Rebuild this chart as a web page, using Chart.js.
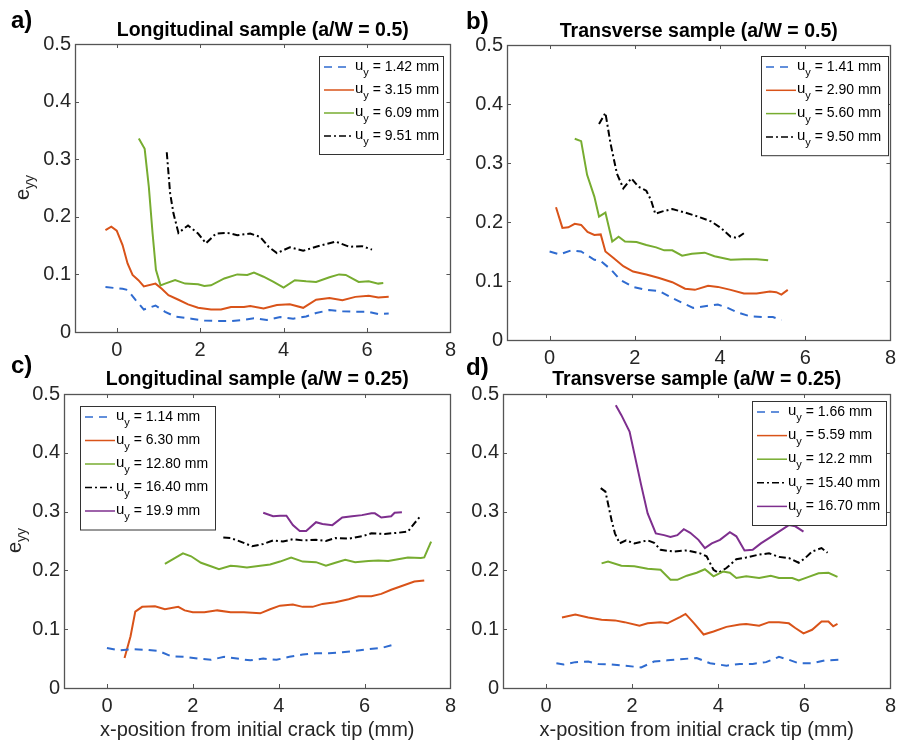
<!DOCTYPE html>
<html>
<head>
<meta charset="utf-8">
<title>e_yy vs x-position</title>
<script src="https://cdn.jsdelivr.net/npm/chart.js@4.4.1/dist/chart.umd.min.js"></script>
<style>
  body { margin: 0; background: #fff; }
  #wrap { position: relative; width: 902px; height: 740px; overflow: hidden; }
  canvas { position: absolute; }
</style>
</head>
<body>
<div id="wrap">
  <canvas id="chartA" width="462" height="370" style="left:0;top:0"></canvas>
  <canvas id="chartB" width="452" height="370" style="left:450px;top:0"></canvas>
  <canvas id="chartC" width="462" height="390" style="left:0;top:350px"></canvas>
  <canvas id="chartD" width="452" height="390" style="left:450px;top:350px"></canvas>
</div>
<script>
// axis ticks shared by all four panels
var xTicks = [0, 2, 4, 6, 8];
var yTicks = [0, 0.1, 0.2, 0.3, 0.4, 0.5];

// a) Longitudinal sample (a/W = 0.5)  -- points are [x mm, e_yy]
var longHalfUy = ['1.42', '3.15', '6.09', '9.51'];
var longHalf1 = [[-0.27,0.078],[0.14,0.075],[0.26,0.073],[0.46,0.055],[0.65,0.039],[0.93,0.046],[1.16,0.035],[1.4,0.027],[1.79,0.023],[2.1,0.020],[2.42,0.019],[2.74,0.019],[3.05,0.021],[3.29,0.024],[3.6,0.021],[3.92,0.026],[4.23,0.023],[4.54,0.027],[4.78,0.033],[5.1,0.038],[5.41,0.036],[5.72,0.035],[6.04,0.035],[6.27,0.031],[6.52,0.032]];
var longHalf2 = [[-0.27,0.177],[-0.13,0.183],[0,0.176],[0.14,0.151],[0.26,0.119],[0.38,0.099],[0.52,0.09],[0.65,0.079],[0.93,0.084],[1.08,0.075],[1.24,0.064],[1.48,0.056],[1.71,0.048],[1.95,0.042],[2.26,0.039],[2.5,0.039],[2.74,0.0435],[3.05,0.0435],[3.2,0.045],[3.52,0.041],[3.84,0.047],[4.15,0.048],[4.47,0.042],[4.78,0.056],[5.1,0.059],[5.41,0.055],[5.72,0.061],[6.04,0.063],[6.27,0.06],[6.52,0.061]];
var longHalf3 = [[0.53,0.336],[0.67,0.318],[0.77,0.252],[0.86,0.171],[0.94,0.108],[1.05,0.081],[1.16,0.084],[1.4,0.09],[1.64,0.084],[1.95,0.083],[2.1,0.08],[2.26,0.081],[2.58,0.093],[2.89,0.1],[3.13,0.099],[3.29,0.103],[3.52,0.096],[3.76,0.087],[4.0,0.077],[4.27,0.09],[4.54,0.088],[4.78,0.087],[5.1,0.095],[5.33,0.1],[5.49,0.099],[5.8,0.087],[6.04,0.088],[6.27,0.084],[6.39,0.085]];
var longHalf4 = [[1.2,0.312],[1.28,0.241],[1.36,0.206],[1.48,0.172],[1.71,0.185],[1.95,0.171],[2.14,0.154],[2.38,0.171],[2.66,0.172],[2.89,0.168],[3.2,0.171],[3.44,0.165],[3.64,0.148],[3.84,0.137],[4.15,0.147],[4.47,0.141],[4.78,0.148],[5.1,0.154],[5.25,0.157],[5.57,0.148],[5.88,0.149],[6.12,0.143]];

// b) Transverse sample (a/W = 0.5)
var transHalfUy = ['1.41', '2.90', '5.60', '9.50'];
var transHalf1 = [[0,0.150],[0.24,0.145],[0.51,0.152],[0.74,0.150],[1.05,0.136],[1.2,0.134],[1.43,0.12],[1.66,0.102],[1.96,0.09],[2.27,0.085],[2.57,0.083],[2.88,0.071],[3.11,0.063],[3.37,0.0545],[3.72,0.058],[3.95,0.06],[4.18,0.0545],[4.4,0.047],[4.71,0.040],[5.02,0.039],[5.24,0.039],[5.44,0.034]];
var transHalf2 = [[0.15,0.225],[0.3,0.19],[0.44,0.191],[0.59,0.197],[0.74,0.195],[0.89,0.183],[1.05,0.178],[1.2,0.179],[1.31,0.15],[1.5,0.139],[1.73,0.125],[1.96,0.116],[2.27,0.111],[2.57,0.105],[2.88,0.098],[3.18,0.087],[3.41,0.085],[3.72,0.092],[3.95,0.09],[4.25,0.085],[4.56,0.079],[4.86,0.079],[5.17,0.082],[5.32,0.081],[5.44,0.077],[5.59,0.085]];
var transHalf3 = [[0.59,0.341],[0.74,0.337],[0.88,0.28],[1.05,0.243],[1.16,0.209],[1.31,0.216],[1.47,0.167],[1.62,0.175],[1.77,0.167],[2.04,0.166],[2.27,0.161],[2.5,0.157],[2.69,0.152],[2.88,0.152],[3.11,0.143],[3.34,0.146],[3.64,0.148],[3.87,0.142],[4.25,0.136],[4.56,0.137],[4.86,0.137],[5.13,0.135]];
var transHalf4 = [[1.16,0.366],[1.31,0.385],[1.43,0.333],[1.58,0.282],[1.73,0.257],[1.92,0.274],[2.08,0.26],[2.27,0.253],[2.38,0.237],[2.48,0.214],[2.65,0.218],[2.88,0.222],[3.18,0.216],[3.49,0.209],[3.79,0.201],[4.02,0.19],[4.25,0.175],[4.4,0.173],[4.56,0.181]];

// c) Longitudinal sample (a/W = 0.25)
var longQuarterUy = ['1.14', '6.30', '12.80', '16.40', '19.9'];
var longQuarter1 = [[0,0.068],[0.28,0.064],[0.59,0.066],[0.89,0.065],[1.2,0.063],[1.5,0.054],[1.81,0.053],[2.12,0.05],[2.42,0.048],[2.73,0.053],[3.03,0.05],[3.34,0.047],[3.64,0.05],[3.95,0.048],[4.25,0.053],[4.56,0.057],[4.87,0.059],[5.17,0.059],[5.48,0.061],[5.78,0.063],[6.09,0.066],[6.39,0.068],[6.7,0.074]];
var longQuarter2 = [[0.41,0.051],[0.55,0.088],[0.66,0.130],[0.82,0.138],[1.12,0.139],[1.35,0.134],[1.66,0.138],[1.81,0.132],[2.0,0.129],[2.27,0.129],[2.57,0.132],[2.88,0.129],[3.19,0.129],[3.57,0.127],[3.8,0.134],[4.03,0.14],[4.33,0.142],[4.56,0.138],[4.79,0.138],[5.02,0.143],[5.32,0.146],[5.63,0.151],[5.86,0.156],[6.16,0.156],[6.39,0.16],[6.62,0.167],[6.85,0.173],[7.16,0.181],[7.39,0.183]];
var longQuarter3 = [[1.35,0.211],[1.58,0.221],[1.77,0.229],[1.96,0.224],[2.19,0.213],[2.42,0.207],[2.61,0.202],[2.88,0.208],[3.03,0.207],[3.26,0.205],[3.57,0.208],[3.8,0.21],[4.03,0.215],[4.29,0.222],[4.56,0.215],[4.87,0.214],[5.1,0.208],[5.32,0.213],[5.55,0.218],[5.78,0.214],[6.09,0.216],[6.32,0.217],[6.55,0.216],[6.78,0.219],[7.01,0.222],[7.31,0.221],[7.39,0.222],[7.55,0.249]];
var longQuarter4 = [[2.71,0.256],[2.88,0.255],[3.11,0.249],[3.38,0.241],[3.64,0.245],[3.87,0.251],[4.1,0.249],[4.33,0.253],[4.56,0.251],[4.87,0.252],[5.1,0.25],[5.32,0.255],[5.63,0.254],[5.94,0.258],[6.16,0.263],[6.47,0.262],[6.78,0.264],[7.01,0.266],[7.16,0.28],[7.3,0.292]];
var longQuarter5 = [[3.64,0.298],[3.87,0.292],[4.03,0.293],[4.18,0.293],[4.33,0.277],[4.49,0.267],[4.64,0.267],[4.87,0.282],[5.02,0.279],[5.25,0.277],[5.48,0.29],[5.71,0.292],[5.94,0.294],[6.16,0.297],[6.24,0.297],[6.39,0.29],[6.62,0.292],[6.7,0.298],[6.87,0.299]];

// d) Transverse sample (a/W = 0.25)
var transQuarterUy = ['1.66', '5.59', '12.2', '15.40', '16.70'];
var transQuarter1 = [[0.24,0.042],[0.41,0.04],[0.68,0.044],[0.98,0.045],[1.21,0.041],[1.52,0.04],[1.82,0.038],[2.21,0.035],[2.51,0.045],[2.82,0.047],[3.12,0.049],[3.5,0.051],[3.81,0.042],[4.19,0.038],[4.5,0.041],[4.8,0.041],[5.11,0.044],[5.41,0.053],[5.64,0.048],[5.87,0.042],[6.18,0.042],[6.48,0.047],[6.82,0.048]];
var transQuarter2 = [[0.37,0.12],[0.68,0.125],[0.98,0.12],[1.29,0.116],[1.6,0.115],[1.82,0.112],[2.17,0.106],[2.36,0.11],[2.66,0.112],[2.82,0.11],[3.12,0.121],[3.24,0.126],[3.44,0.11],[3.66,0.091],[3.89,0.096],[4.19,0.104],[4.5,0.108],[4.65,0.109],[4.95,0.106],[5.18,0.112],[5.41,0.112],[5.64,0.11],[5.79,0.102],[5.98,0.093],[6.18,0.099],[6.4,0.113],[6.56,0.113],[6.67,0.105],[6.77,0.109]];
var transQuarter3 = [[1.29,0.212],[1.44,0.215],[1.75,0.208],[2.05,0.207],[2.36,0.203],[2.66,0.201],[2.89,0.184],[3.05,0.184],[3.27,0.191],[3.5,0.196],[3.69,0.202],[3.89,0.19],[4.11,0.198],[4.27,0.196],[4.42,0.187],[4.65,0.19],[4.95,0.187],[5.22,0.191],[5.41,0.187],[5.72,0.187],[5.87,0.183],[6.1,0.189],[6.33,0.195],[6.56,0.196],[6.77,0.189]];
var transQuarter4 = [[1.27,0.34],[1.38,0.334],[1.52,0.286],[1.6,0.263],[1.71,0.246],[1.86,0.251],[2.05,0.246],[2.36,0.251],[2.51,0.247],[2.66,0.235],[2.97,0.232],[3.27,0.234],[3.58,0.229],[3.73,0.224],[3.89,0.201],[4.0,0.196],[4.19,0.204],[4.42,0.219],[4.65,0.222],[4.95,0.227],[5.18,0.229],[5.41,0.223],[5.64,0.221],[5.87,0.213],[6.02,0.221],[6.18,0.232],[6.4,0.238],[6.54,0.23]];
var transQuarter5 = [[1.62,0.481],[1.75,0.464],[1.94,0.436],[2.05,0.399],[2.21,0.345],[2.36,0.297],[2.55,0.263],[2.74,0.26],[2.89,0.257],[3.05,0.26],[3.2,0.27],[3.35,0.264],[3.54,0.252],[3.69,0.238],[3.85,0.246],[4.04,0.252],[4.27,0.265],[4.42,0.258],[4.61,0.234],[4.8,0.235],[4.99,0.246],[5.18,0.255],[5.41,0.266],[5.64,0.277],[5.79,0.275],[5.98,0.266]];

var FONT = '"Liberation Sans", Arial, Helvetica, sans-serif';
var AXIS = '#262626';
var BOX = '#555555';

// line styles in MATLAB order: blue --, red -, green -, black -., purple -
// legLen = length of the sample line in the legend
var styles = [
  { color: '#2f6bd0', dash: [8, 6], legLen: 22 },
  { color: '#d95319', dash: [], legLen: 30 },
  { color: '#77ac30', dash: [], legLen: 30 },
  { color: '#000000', dash: [7, 3, 2, 3], legLen: 30 },
  { color: '#7e2f8e', dash: [], legLen: 30 }
];

// draws the box, inward ticks, titles and the in-axes legend
var matlabLook = {
  id: 'matlabLook',
  afterDraw: function (chart) {
    var o = chart.options.plugins.matlabLook;
    var ctx = chart.ctx;
    var a = chart.chartArea;
    var xs = chart.scales.x, ys = chart.scales.y;
    ctx.save();

    // box
    ctx.strokeStyle = BOX;
    ctx.lineWidth = 1.3;
    ctx.setLineDash([]);
    ctx.strokeRect(Math.round(a.left) + 0.5, Math.round(a.top) + 0.5,
      Math.round(a.right - a.left), Math.round(a.bottom - a.top));

    // inward ticks on all four sides
    ctx.lineWidth = 1;
    ctx.beginPath();
    xs.ticks.forEach(function (t) {
      var px = Math.round(xs.getPixelForValue(t.value)) + 0.5;
      ctx.moveTo(px, a.bottom); ctx.lineTo(px, a.bottom - 4);
      ctx.moveTo(px, a.top); ctx.lineTo(px, a.top + 4);
    });
    ys.ticks.forEach(function (t) {
      var py = Math.round(ys.getPixelForValue(t.value)) + 0.5;
      ctx.moveTo(a.left, py); ctx.lineTo(a.left + 4, py);
      ctx.moveTo(a.right, py); ctx.lineTo(a.right - 4, py);
    });
    ctx.stroke();

    // title and panel letter
    ctx.fillStyle = '#000';
    ctx.textBaseline = 'middle';
    ctx.textAlign = 'center';
    ctx.font = 'bold 19.5px ' + FONT;
    ctx.fillText(o.title, (a.left + a.right) / 2, o.titleY);
    ctx.textAlign = 'left';
    ctx.font = 'bold 24px ' + FONT;
    ctx.fillText(o.letter, o.letterX, o.letterY);

    // y label e_yy
    if (o.yLabelX) {
      ctx.save();
      ctx.translate(o.yLabelX, (a.top + a.bottom) / 2 + 12);
      ctx.rotate(-Math.PI / 2);
      ctx.textBaseline = 'alphabetic';
      ctx.fillStyle = AXIS;
      ctx.font = '20px ' + FONT;
      ctx.fillText('e', 0, 0);
      var ew = ctx.measureText('e').width;
      ctx.font = '14px ' + FONT;
      ctx.fillText('yy', ew, 5);
      ctx.restore();
    }

    // x label
    if (o.xLabelY) {
      ctx.fillStyle = AXIS;
      ctx.textAlign = 'center';
      ctx.font = '20px ' + FONT;
      ctx.fillText('x-position from initial crack tip (mm)', (a.left + a.right) / 2, o.xLabelY);
      ctx.textAlign = 'left';
    }

    // legend
    var lg = o.legend;
    var n = chart.data.datasets.length;
    var bx = a.left + lg.dx, by = a.top + lg.dy;
    var bh = n * lg.row + 6;
    ctx.fillStyle = '#fff';
    ctx.fillRect(bx, by, lg.w, bh);
    ctx.strokeStyle = '#333';
    ctx.strokeRect(Math.round(bx) + 0.5, Math.round(by) + 0.5, lg.w, bh);
    chart.data.datasets.forEach(function (ds, i) {
      var cy = by + 11 + i * lg.row;
      ctx.strokeStyle = ds.borderColor;
      ctx.lineWidth = 1.5;
      ctx.setLineDash(ds.borderDash);
      ctx.beginPath();
      ctx.moveTo(bx + 5, cy); ctx.lineTo(bx + 5 + styles[i].legLen, cy);
      ctx.stroke();
      ctx.setLineDash([]);
      ctx.fillStyle = '#000';
      ctx.textBaseline = 'middle';
      var tx = bx + 36;
      ctx.font = '15px ' + FONT;
      ctx.fillText('u', tx, cy - 1);
      tx += ctx.measureText('u').width;
      ctx.font = '11px ' + FONT;
      ctx.fillText('y', tx, cy + 6);
      tx += ctx.measureText('y').width;
      ctx.font = '14px ' + FONT;
      ctx.fillText(' = ' + o.uy[i] + ' mm', tx, cy);
    });

    ctx.restore();
  }
};

function makePanel(id, series, uy, p) {
  var ctx = document.getElementById(id).getContext('2d');
  var datasets = series.map(function (pts, i) {
    return {
      label: 'u_y = ' + uy[i] + ' mm',
      data: pts.map(function (q) { return { x: q[0], y: q[1] }; }),
      borderColor: styles[i].color,
      borderDash: styles[i].dash,
      borderWidth: 2,
      pointRadius: 0,
      tension: 0,
      fill: false
    };
  });
  return new Chart(ctx, {
    type: 'line',
    data: { datasets: datasets },
    plugins: [matlabLook],
    options: {
      responsive: false,
      animation: false,
      devicePixelRatio: 1,
      layout: { padding: { left: 0, top: p.top, right: p.right, bottom: 0 } },
      scales: {
        x: {
          type: 'linear', min: -1, max: 8,
          grid: { display: false, drawTicks: false },
          border: { display: false },
          afterBuildTicks: function (s) { s.ticks = xTicks.map(function (v) { return { value: v }; }); },
          afterFit: function (s) { s.height = p.xh; },
          ticks: { autoSkip: false, maxRotation: 0, padding: 6, color: AXIS,
            font: { size: 20, family: FONT }, callback: function (v) { return String(v); } }
        },
        y: {
          type: 'linear', min: 0, max: 0.5,
          grid: { display: false, drawTicks: false },
          border: { display: false },
          afterBuildTicks: function (s) { s.ticks = yTicks.map(function (v) { return { value: v }; }); },
          afterFit: function (s) { s.width = p.yw; },
          ticks: { autoSkip: false, padding: 4, color: AXIS,
            font: { size: 20, family: FONT }, callback: function (v) { return String(v); } }
        }
      },
      plugins: {
        legend: { display: false },
        tooltip: { enabled: false },
        matlabLook: {
          title: p.title, titleY: p.titleY,
          letter: p.letter, letterX: p.letterX, letterY: p.letterY,
          yLabelX: p.yLabelX, xLabelY: p.xLabelY,
          uy: uy, legend: p.legend
        }
      }
    }
  });
}

makePanel('chartA', [longHalf1, longHalf2, longHalf3, longHalf4], longHalfUy, {
  top: 44, right: 6, yw: 75, xh: 38,
  title: 'Longitudinal sample (a/W = 0.5)', titleY: 31,
  letter: 'a)', letterX: 11, letterY: 21, yLabelX: 29,
  legend: { dx: 244, dy: 12, w: 124, row: 23 }
});
makePanel('chartB', [transHalf1, transHalf2, transHalf3, transHalf4], transHalfUy, {
  top: 45, right: 1, yw: 57, xh: 30,
  title: 'Transverse sample (a/W = 0.5)', titleY: 32,
  letter: 'b)', letterX: 16, letterY: 22,
  legend: { dx: 254, dy: 11, w: 127, row: 23.3 }
});
makePanel('chartC', [longQuarter1, longQuarter2, longQuarter3, longQuarter4, longQuarter5], longQuarterUy, {
  top: 44, right: 5, yw: 64, xh: 52,
  title: 'Longitudinal sample (a/W = 0.25)', titleY: 30,
  letter: 'c)', letterX: 11, letterY: 16, yLabelX: 21, xLabelY: 380,
  legend: { dx: 16, dy: 12, w: 135, row: 23.5 }
});
makePanel('chartD', [transQuarter1, transQuarter2, transQuarter3, transQuarter4, transQuarter5], transQuarterUy, {
  top: 44, right: 6, yw: 53, xh: 52,
  title: 'Transverse sample (a/W = 0.25)', titleY: 30,
  letter: 'd)', letterX: 16, letterY: 18, xLabelY: 380,
  legend: { dx: 249, dy: 7, w: 134, row: 23.6 }
});
</script>
</body>
</html>
